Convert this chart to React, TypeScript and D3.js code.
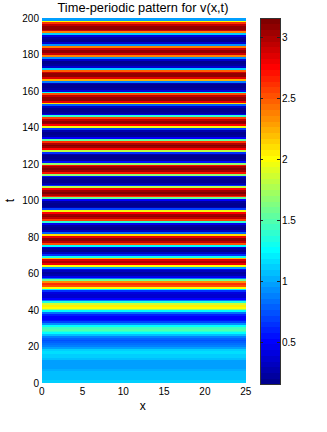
import React from 'react'
import * as d3 from 'd3'

// v(x,t) along t (rows of height 1, starting at t=0); pattern is constant in x
const vRows = [
  1.12, 1.1, 1.08, 1.07, 1.08, 1.08, 1.06, 1.03, 1.0, 0.98, 0.96, 0.97,
  1.0, 1.05, 1.1, 1.14, 1.16, 1.15, 1.1, 1.0, 0.9, 0.82, 0.77, 0.76,
  0.8, 0.9, 1.05, 1.25, 1.42, 1.5, 1.45, 1.25, 0.95, 0.7, 0.55, 0.5,
  0.52, 0.62, 0.85, 1.25, 1.7, 2.0, 2.05, 1.85, 1.35, 0.85, 0.5, 0.37,
  0.36, 0.42, 0.65, 1.2, 2.0, 2.55, 2.6, 2.35, 1.6, 0.9, 0.45, 0.28,
  0.25, 0.3, 0.5, 1.0, 2.0, 2.8, 3.0, 2.85, 2.2, 1.3, 0.65, 0.32, 0.2,
  0.22, 0.43, 1.25, 2.52, 2.95, 3.11, 3.07, 2.82, 2.12, 0.79, 0.31, 0.19, 0.18,
  0.23, 0.47, 1.4, 2.58, 2.97, 3.11, 3.05, 2.78, 1.98, 0.71, 0.29, 0.19, 0.18,
  0.24, 0.51, 1.55, 2.64, 3.0, 3.12, 3.04, 2.74, 1.84, 0.63, 0.27, 0.18, 0.18,
  0.25, 0.55, 1.7, 2.7, 3.02, 3.12, 3.02, 2.7, 1.7, 0.55, 0.25, 0.18, 0.18,
  0.27, 0.63, 1.84, 2.74, 3.04, 3.12, 3.0, 2.64, 1.55, 0.51, 0.24, 0.18, 0.19,
  0.29, 0.71, 1.98, 2.78, 3.05, 3.11, 2.97, 2.58, 1.4, 0.47, 0.23, 0.18,
  0.19, 0.31, 0.79, 2.12, 2.82, 3.07, 3.11, 2.95, 2.52, 1.25, 0.43, 0.22, 0.18,
  0.2, 0.33, 0.87, 2.26, 2.86, 3.08, 3.1, 2.92, 2.46, 1.1, 0.39, 0.21, 0.18,
  0.2, 0.35, 0.95, 2.4, 2.9, 3.1, 3.1, 2.9, 2.4, 0.95, 0.35, 0.2, 0.18,
  0.21, 0.4, 1.1, 2.4, 2.9, 3.1, 3.1, 2.95, 2.6, 2.0, 1.0,
]
const xDomain = [0, 25]
const tDomain = [0, 200]
const cDomain = [0.158, 3.16]
const xTicks = [0, 5, 10, 15, 20, 25]
const tTicks = [0, 20, 40, 60, 80, 100, 120, 140, 160, 180, 200]
const cTicks = [0.5, 1, 1.5, 2, 2.5, 3]

// matlab jet(64)
const jet = (m: number) => {
  const n = Math.ceil(m / 4)
  const u: number[] = []
  for (let i = 1; i <= n; i++) u.push(i / n)
  for (let i = 1; i < n; i++) u.push(1)
  for (let i = n; i >= 1; i--) u.push(i / n)
  const J = Array.from({ length: m }, () => [0, 0, 0])
  const off = Math.ceil(n / 2) - (m % 4 === 1 ? 1 : 0)
  u.forEach((val, k) => {
    const g = off + k + 1
    const r = g + n
    const b = g - n
    if (r >= 1 && r <= m) J[r - 1][0] = val
    if (g >= 1 && g <= m) J[g - 1][1] = val
    if (b >= 1 && b <= m) J[b - 1][2] = val
  })
  return J.map(c => d3.rgb(c[0] * 255, c[1] * 255, c[2] * 255).formatHex())
}

const colors = jet(64)
const font = 'Liberation Sans, Arial, Helvetica, sans-serif'

export default function App() {
  const x = d3.scaleLinear().domain(xDomain).range([41.7, 245.7])
  const y = d3.scaleLinear().domain(tDomain).range([383, 18.3])
  const color = d3.scaleQuantize<string>().domain(cDomain).range(colors)
  const cy = d3.scaleLinear().domain(cDomain).range([384, 18.3])
  const cbX = 260
  const cbW = 20
  const step = (cDomain[1] - cDomain[0]) / colors.length

  return (
    <svg width={327} height={432} style={{ position: 'absolute', left: 0, top: 0, background: '#fff' }} fontFamily={font}>
      <g shapeRendering="crispEdges">
        {vRows.map((v, i) => (
          <rect key={i} x={x(xDomain[0])} width={x(xDomain[1]) - x(xDomain[0])}
            y={y(i + 1)} height={y(i) - y(i + 1) + 0.4} fill={color(v)} />
        ))}
      </g>
      <text x={143} y={12} textAnchor="middle" fontSize={12.8} fill="#000">Time-periodic pattern for v(x,t)</text>
      {tTicks.map(t => (
        <text key={t} x={39} y={y(t)} dy="0.35em" textAnchor="end" fontSize={10} fill="#000">{t}</text>
      ))}
      {xTicks.map(v => (
        <text key={v} x={x(v)} y={395} textAnchor="middle" fontSize={10} fill="#000">{v}</text>
      ))}
      <text x={142.7} y={410} textAnchor="middle" fontSize={12} fill="#000">x</text>
      <text transform={`translate(14,${y(100)}) rotate(-90)`} textAnchor="middle" fontSize={12} fill="#000">t</text>
      <g shapeRendering="crispEdges">
        {colors.map((c, i) => (
          <rect key={i} x={cbX} width={cbW} y={cy(cDomain[0] + (i + 1) * step)}
            height={cy(cDomain[0] + i * step) - cy(cDomain[0] + (i + 1) * step) + 0.4} fill={c} />
        ))}
        <rect x={cbX} y={cy(cDomain[1])} width={cbW} height={cy(cDomain[0]) - cy(cDomain[1])} fill="none" stroke="#333" strokeWidth={1} />
        {cTicks.map(v => (
          <g key={v}>
            <line x1={cbX} x2={cbX + 3} y1={cy(v)} y2={cy(v)} stroke="#222" />
            <line x1={cbX + cbW - 3} x2={cbX + cbW} y1={cy(v)} y2={cy(v)} stroke="#222" />
          </g>
        ))}
      </g>
      {cTicks.map(v => (
        <text key={v} x={cbX + cbW + 2} y={cy(v)} dy="0.35em" fontSize={10} fill="#000">{v}</text>
      ))}
    </svg>
  )
}
